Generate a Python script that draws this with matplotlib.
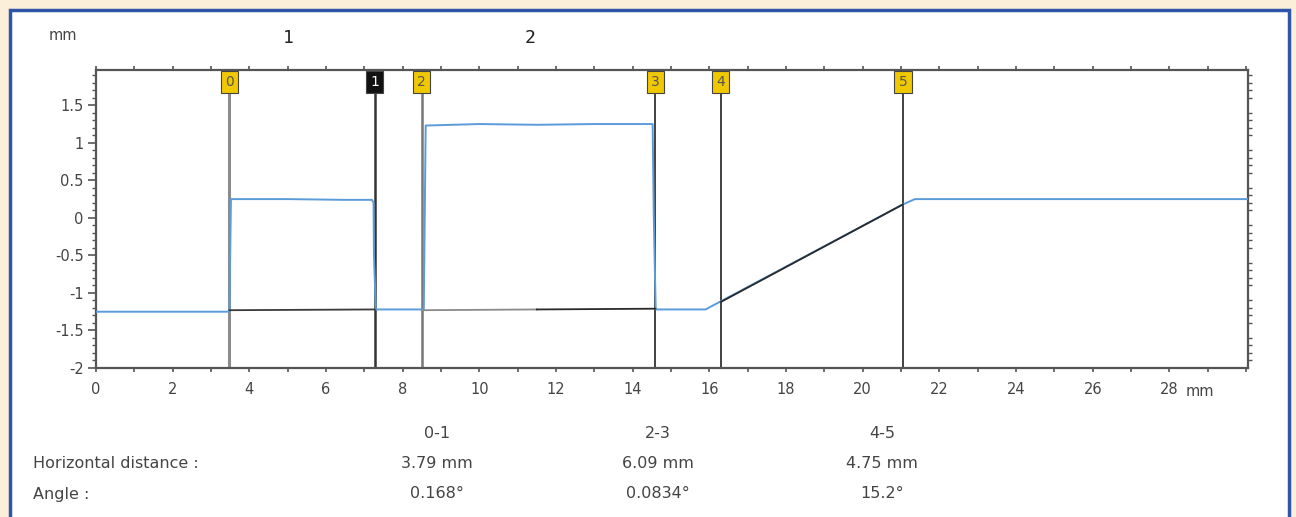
#profile chart with cursors and measurement table
import numpy as np
import matplotlib.pyplot as plt
from matplotlib.patches import Rectangle
from matplotlib.ticker import MultipleLocator
import matplotlib.transforms as mtransforms

W, H = 1296, 517

# measured profile (mm)
prof_x = [0, 3.48, 3.52, 5.0, 6.5, 7.2, 7.24, 7.25, 7.3, 8.55, 8.6, 10.0, 11.5, 13.0, 14.52, 14.55, 14.6, 14.65, 15.9, 21.05, 21.36, 30.05]
prof_y = [-1.25, -1.25, 0.25, 0.25, 0.24, 0.24, 0.2, -0.5, -1.22, -1.22, 1.23, 1.25, 1.24, 1.25, 1.25, 0.0, -1.22, -1.22, -1.22, 0.18, 0.25, 0.25]

# cursors
cursor_x = [3.48, 7.27, 8.5, 14.59, 16.3, 21.05]
cursor_lab = ["0", "1", "2", "3", "4", "5"]
cursor_col = ["#8c8c8c", "#333333", "#777777", "#333333", "#333333", "#333333"]
cursor_lw = [2.2, 1.8, 1.8, 1.3, 1.3, 1.3]

# fitted segments between cursor pairs
fit_x = [[3.48, 7.27], [8.5, 11.5], [11.5, 14.59], [16.3, 21.05]]
fit_y = [[-1.23, -1.22], [-1.23, -1.22], [-1.22, -1.21], [-1.12, 0.18]]
fit_col = ['#3a3a3a', '#8a8a8a', '#2a2a2a', '#2a2a2a']

# measurement table
pairs = ["0-1", "2-3", "4-5"]
hdist = ["3.79 mm", "6.09 mm", "4.75 mm"]
angles = ["0.168\u00b0", "0.0834\u00b0", "15.2\u00b0"]

plt.rcParams['font.family'] = ['DejaVu Sans']

def px(x, y):
	return x / W, 1 - y / H

fig = plt.figure(figsize=(W / 100, H / 100), dpi=100)
fig.patch.set_facecolor('#fcefda')

# white panel with blue frame
fig.patches.append(Rectangle(px(10, 560), (1289 - 10) / W, (560 - 10) / H, transform=fig.transFigure,
	facecolor='white', edgecolor='#2f55a8', linewidth=2.5, zorder=-10))

ax = fig.add_axes([96 / W, 1 - 368 / H, (1248 - 96) / W, (368 - 70) / H])
ax.set_zorder(5)
ax.set_facecolor('white')
ax.set_xlim(0, 30.05)
ax.set_ylim(-2, 1.97)

for i in range(len(cursor_x)):
	ax.axvline(cursor_x[i], color=cursor_col[i], lw=cursor_lw[i], zorder=2)

ax.plot(prof_x, prof_y, color='#5b9bd9', lw=1.4, zorder=3)
for fx, fy, fc in zip(fit_x, fit_y, fit_col):
	ax.plot(fx, fy, color=fc, lw=1.3, zorder=4)

trans = mtransforms.blended_transform_factory(ax.transData, ax.transAxes)
for i in range(len(cursor_x)):
	if cursor_lab[i] == "1":
		fc, tc = '#111111', 'white'
	else:
		fc, tc = '#f0c800', '#555555'
	ax.text(cursor_x[i], 0.96, cursor_lab[i], transform=trans, ha='center', va='center',
		fontsize=10, color=tc, zorder=6,
		bbox=dict(boxstyle='square,pad=0.3', facecolor=fc, edgecolor='#444444', linewidth=0.8))

for s in ax.spines.values():
	s.set_color('#555555')
	s.set_linewidth(1.6)

ax.xaxis.set_major_locator(MultipleLocator(2))
ax.xaxis.set_minor_locator(MultipleLocator(1))
ax.yaxis.set_major_locator(MultipleLocator(0.5))
ax.yaxis.set_minor_locator(MultipleLocator(0.1))
ax.tick_params(axis='both', which='both', direction='out', colors='#555555', labelsize=10.5, labelcolor='#444444')
ax.tick_params(axis='x', which='both', top=True, length=3, width=1.2, pad=7)
ax.tick_params(axis='y', which='major', length=6, width=1.2, pad=3)
ax.tick_params(axis='y', which='minor', length=3, width=1, right=True)
ax.set_xticks(np.arange(0, 30, 2))
ax.set_yticks([-2, -1.5, -1, -0.5, 0, 0.5, 1, 1.5])
ax.set_yticklabels(['-2', '-1.5', '-1', '-0.5', '0', '0.5', '1', '1.5'])

fig.text(*px(1186, 392), "mm", fontsize=10.5, color='#444444', va='center')
fig.text(*px(63, 36), "mm", fontsize=10.5, color='#444444', va='center', ha='center')
fig.text(*px(288, 38), "1", fontsize=13, family='DejaVu Sans Mono', color='#222222', va='center', ha='center')
fig.text(*px(530, 38), "2", fontsize=13, family='DejaVu Sans Mono', color='#222222', va='center', ha='center')

col_x = [437, 658, 882]
fs = 11.5
fig.text(*px(33, 464), "Horizontal distance :", fontsize=fs, color='#444444', va='center')
fig.text(*px(33, 494), "Angle :", fontsize=fs, color='#444444', va='center')
for i in range(3):
	fig.text(*px(col_x[i], 433), pairs[i], fontsize=fs, color='#444444', va='center', ha='center')
	fig.text(*px(col_x[i], 464), hdist[i], fontsize=fs, color='#444444', va='center', ha='center')
	fig.text(*px(col_x[i], 494), angles[i], fontsize=fs, color='#444444', va='center', ha='center')

fig.savefig('out.png', dpi=100)
